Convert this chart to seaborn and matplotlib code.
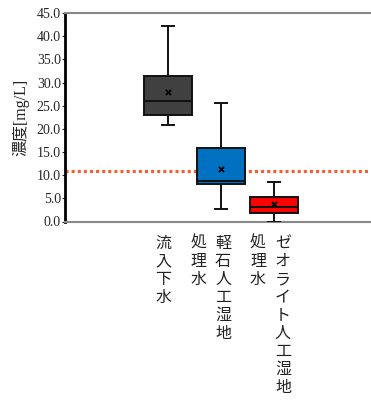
import numpy as np
import pandas as pd
import matplotlib
matplotlib.use("Agg")
import matplotlib.pyplot as plt
import seaborn as sns

# ---- data ----
categories = ["流入下水", "軽石人工湿地処理水", "ゼオライト人工湿地処理水"]
label_lines = [["流入下水"], ["軽石人工湿地", "処理水"], ["ゼオライト人工湿地", "処理水"]]
# five-number summaries: min, Q1, median, Q3, max
mins    = [20.9, 2.6, 0.0]
q1s     = [22.9, 8.1, 1.9]
medians = [26.0, 8.8, 3.1]
q3s     = [31.5, 15.8, 5.2]
maxs    = [42.3, 25.6, 8.6]
means   = [27.9, 11.4, 3.8]
box_colors = ["#404040", "#0070C0", "#FF0000"]
ref_value = 10.8
yticks = [0, 5, 10, 15, 20, 25, 30, 35, 40, 45]

rows = []
for c, a, b, m, d, e in zip(categories, mins, q1s, medians, q3s, maxs):
    for v in (a, b, m, d, e):
        rows.append({"cat": c, "val": v})
df = pd.DataFrame(rows)
mdf = pd.DataFrame({"cat": categories, "mean": means})

sns.set_style("white")
plt.rcParams["font.family"] = ["Liberation Serif", "Noto Sans CJK JP"]

fig = plt.figure(figsize=(3.71, 4.05), dpi=100)
ax = fig.add_axes([65 / 371, 1 - 221.5 / 405, (371 - 65) / 371, (221.5 - 13) / 405])

edge = "#111111"
sns.boxplot(data=df, x="cat", y="val", hue="cat", palette=box_colors, legend=False,
            order=categories, hue_order=categories, saturation=1,
            width=0.9, whis=np.inf, linewidth=1.4, linecolor=edge,
            showcaps=False, ax=ax)

# short whisker caps
pos = np.arange(len(categories))
cap_half = 0.13
ax.hlines(mins, pos - cap_half, pos + cap_half, color=edge, linewidth=1.4, zorder=3)
ax.hlines(maxs, pos - cap_half, pos + cap_half, color=edge, linewidth=1.4, zorder=3)

sns.scatterplot(data=mdf, x="cat", y="mean", marker="x", color="black", s=14,
                linewidth=1.3, ax=ax, zorder=5)

ax.axhline(ref_value, color="#FF5A2A", linestyle=(0, (1, 1)), linewidth=2.2, zorder=1)

ax.set_xlim(-1.94, 3.83)
ax.set_ylim(0, 45)
ax.set_yticks(yticks)
ax.set_yticklabels([f"{v:.1f}" for v in yticks], fontsize=10)
ax.tick_params(axis="y", left=True, length=2, width=0.8, pad=1, color="#222222")
ax.set_xticks([])
ax.set_xlabel("")
ax.set_ylabel("濃度[mg/L]", fontsize=11.5, labelpad=5, color="#222222")

for s in ["top", "bottom"]:
    ax.spines[s].set_color("#888888")
    ax.spines[s].set_linewidth(1.5)
ax.spines["left"].set_color("black")
ax.spines["left"].set_linewidth(2)
ax.spines["right"].set_visible(False)

# vertical (tategaki) category labels
offsets = [[-0.09], [0.04, -0.43], [0.17, -0.30]]
for i, (lines, offs) in enumerate(zip(label_lines, offsets)):
    for line, off in zip(lines, offs):
        ax.text(i + off, -0.065, "\n".join(line), transform=ax.get_xaxis_transform(),
                ha="center", va="top", fontsize=11.5, family=["Noto Sans CJK JP"],
                linespacing=1.08, color="#222222")

fig.savefig("out.png", dpi=100)
